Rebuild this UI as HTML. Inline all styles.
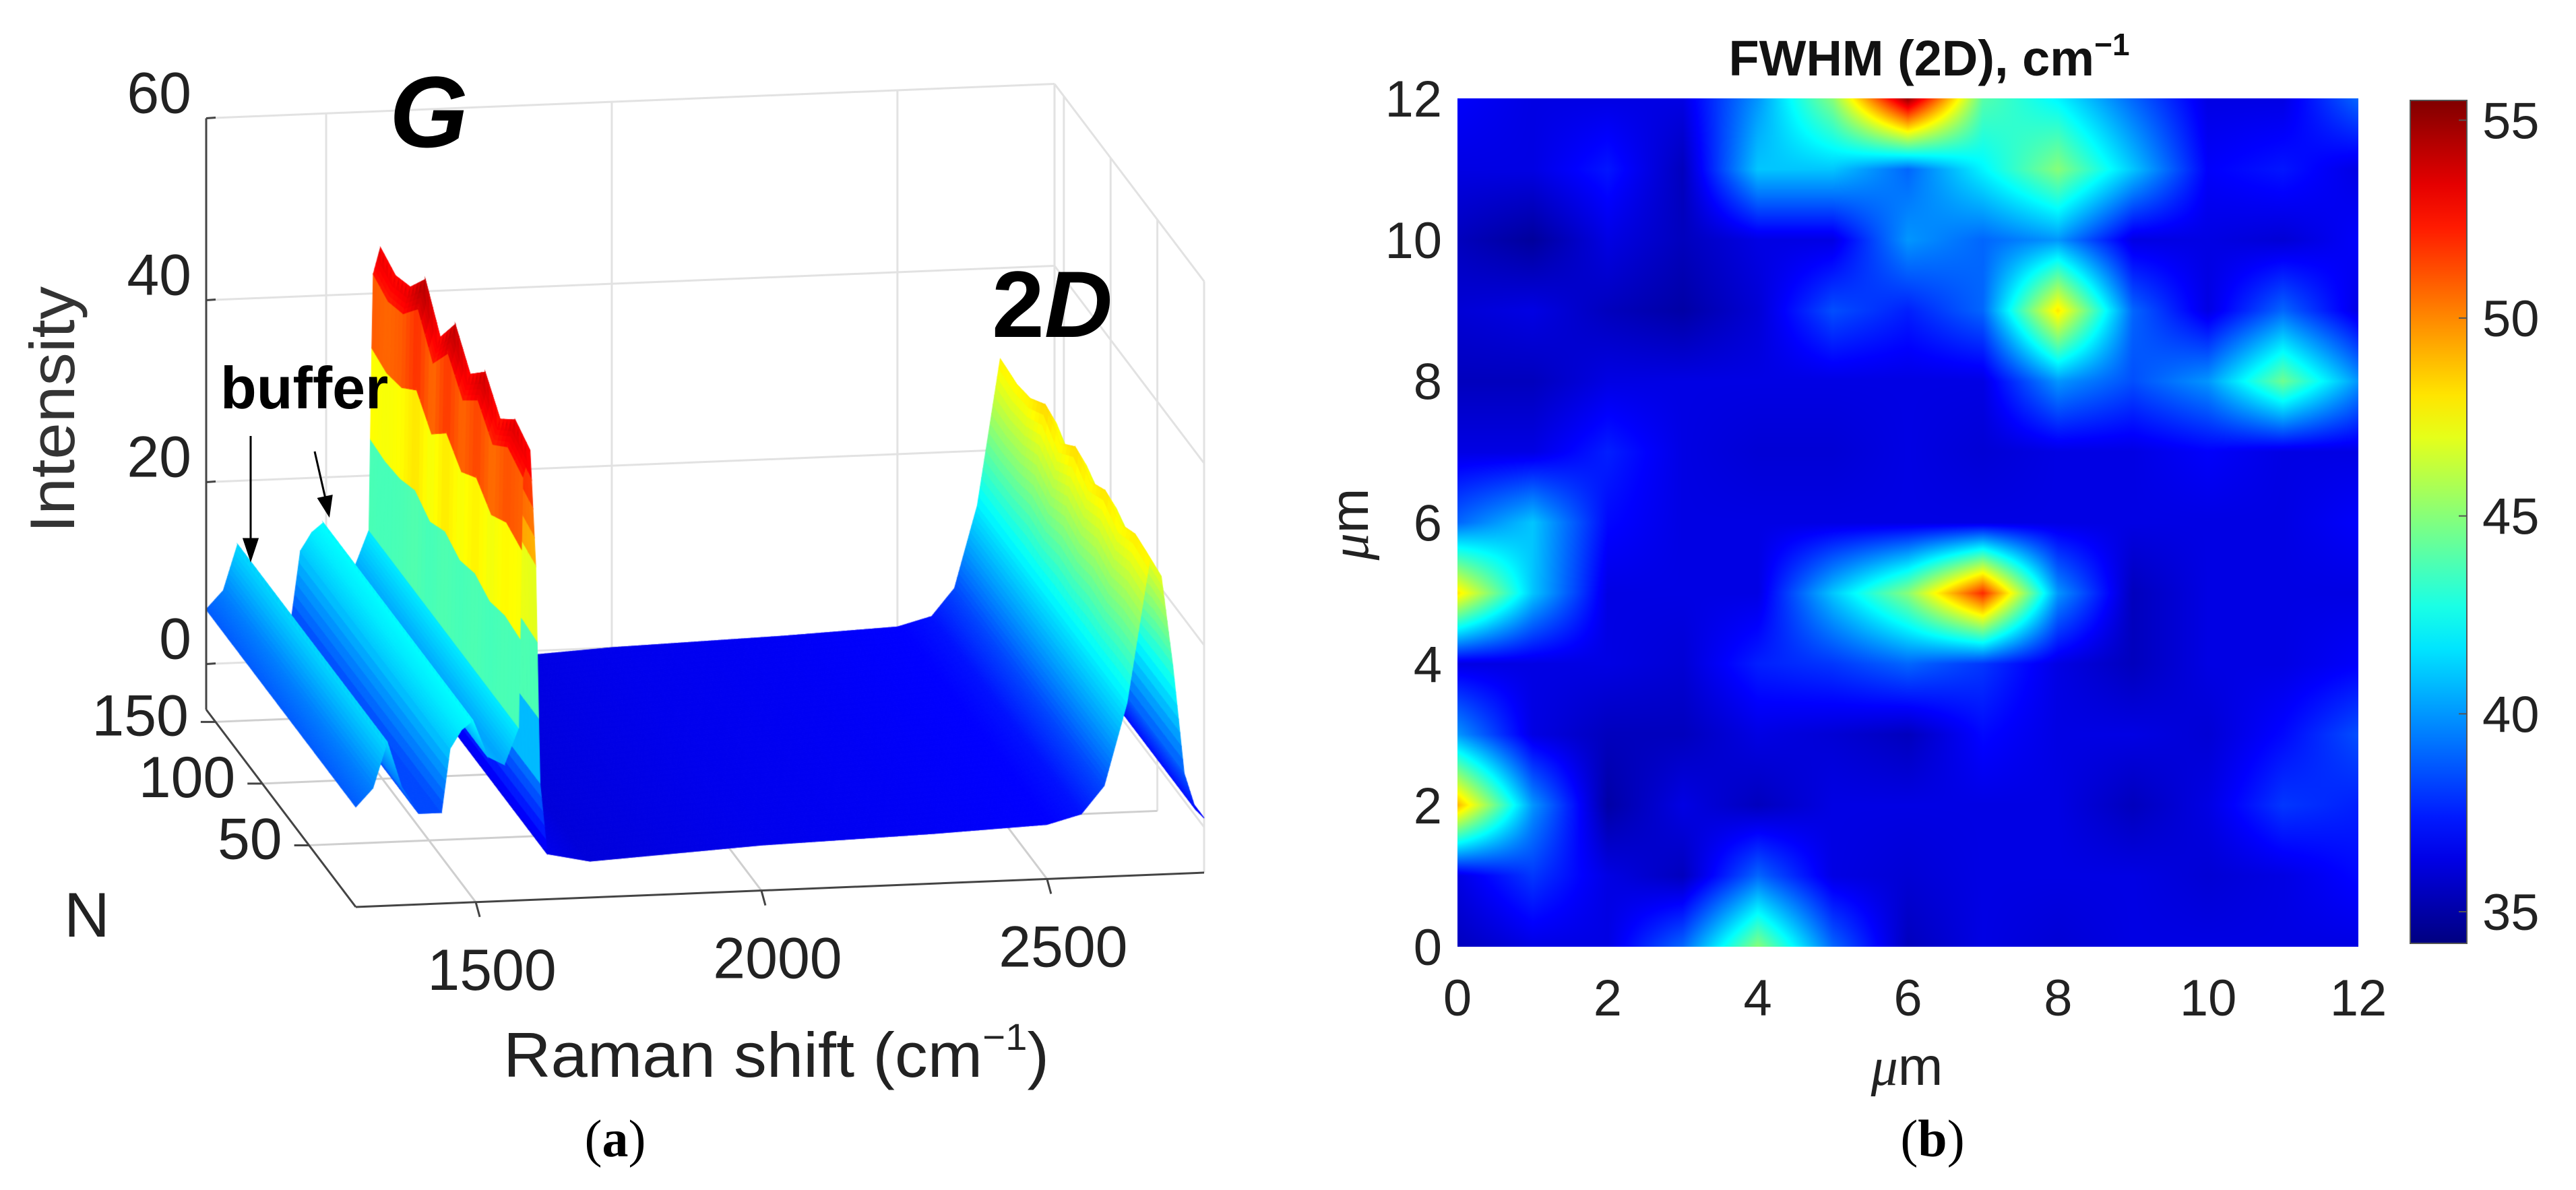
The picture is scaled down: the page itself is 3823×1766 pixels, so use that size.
<!DOCTYPE html>
<html><head><meta charset="utf-8">
<style>
html,body{margin:0;padding:0;background:#fff;}
#root{position:relative;width:3823px;height:1766px;overflow:hidden;background:#fff;font-family:"Liberation Sans",Arial,sans-serif;}
svg,canvas{position:absolute;left:0;top:0;}
</style></head>
<body>
<div id="root">
<svg id="back" width="3823" height="1766"></svg>
<canvas id="surf" width="1900" height="1450"></canvas>
<canvas id="heat" width="1337" height="1259" style="left:2163px;top:146px"></canvas>
<svg id="front" width="3823" height="1766"></svg>
</div>
<script>
// ---------- Panel (a) data ----------
const ramanShift = [1290,1320,1345,1370,1400,1440,1455,1475,1495,1520,1550,1575,1582,1595,1605,1612,1625,1700,2000,2300,2500,2560,2600,2640,2665,2680,2700,2720,2740,2760,2775];
const intensity  = [6,8,13,8,5,5,12,14,15,11,10,14,42,45,32,8,0,-1,0,0.5,1,2,5,14,24,30,28,18,6,2,1];
const spectrumN  = [0,16,32,48,64,80,96,112,128,144,160];
const gScaleByN  = [0.98,1.02,0.95,1.05,0.97,1.08,0.96,1.1,1.0,0.97,1.0];
const zTicks = [0,20,40,60];
const rTicks = [1500,2000,2500];
const nTicks = [50,100,150];
// ---------- Panel (b) data (rows y=12 .. y=0, cols x=0..12) ----------
const fwhmRows = [
[36.8,36.3,36.3,36.3,40,45,55,44,42,39,36.3,36.3,39],
[36.3,36.3,37.3,35.5,41,41,39,42,45,41,36.8,37.3,36.3],
[35.5,34.8,36.3,35.5,36.3,36.3,40,39,40,36.3,36.3,36,36.8],
[36,36.3,35.5,35,36,38.5,37.5,39,48,39,36.3,39,36.3],
[35.5,35.5,36.3,36.3,36.3,36.3,36.3,36.3,40,38.5,40,44.5,40],
[36.3,36.3,37.5,36.3,36,36,36.3,36,36.3,36.3,36.8,36.3,36.3],
[39,41,37,36.3,36.3,36.3,36.3,36.3,36.3,36.3,36.3,36.3,36.8],
[48,41,36.3,36.3,36.3,41,45,52,40,35.5,36.3,36.3,36.3],
[36.3,36.3,36.3,36,37.5,38,39,38,36.3,35.5,36.3,36.3,36.8],
[40,36.3,35.5,35.5,36.3,36,35.5,37,36.3,36.3,36,37,38.5],
[49,40,35,36.3,35.5,36.3,36.3,36.3,36.3,35.5,36.3,38,37.5],
[36.3,38,36.3,35.5,39,36.3,36,36.3,36.3,36.3,36,36.3,37],
[35.5,36.3,36.3,39,45,39,35.5,36.3,36,36.3,36.3,36.3,36.3]];
const heatTicks = [0,2,4,6,8,10,12];
const cbarTicks = [35,40,45,50,55];
const cMin = 34.2, cMax = 55.5;

const NS='http://www.w3.org/2000/svg';
function jet(f){f=Math.max(0,Math.min(1,f));const c=v=>Math.round(255*Math.max(0,Math.min(1,v)));
 return [c(1.5-Math.abs(4*f-3)),c(1.5-Math.abs(4*f-2)),c(1.5-Math.abs(4*f-1))];}
function el(parent,tag,attrs,text){const e=document.createElementNS(NS,tag);for(const k in attrs)e.setAttribute(k,attrs[k]);if(text!==undefined)e.textContent=text;parent.appendChild(e);return e;}

const R0=1290,R1=2775,NMAX=160,ZF=-5;
function P(r,n,z){return [528+(r-R0)*(1259/(R1-R0))-n*(222/NMAX), 1346-(r-R0)*(51/(R1-R0))-n*(293/NMAX)-(z-ZF)*13.5];}
function interp(xs,ys,x){if(x<=xs[0])return ys[0];for(let i=1;i<xs.length;i++){if(x<=xs[i]){const t=(x-xs[i-1])/(xs[i]-xs[i-1]);return ys[i-1]+t*(ys[i]-ys[i-1]);}}return ys[ys.length-1];}
function zAt(r,n){let z=interp(ramanShift,intensity,r);if(z>15)z=15+(z-15)*interp(spectrumN,gScaleByN,n);return z;}

const back=document.getElementById('back');
function line(par,a,b,st,w,name){const l=el(par,'line',{x1:a[0],y1:a[1],x2:b[0],y2:b[1],stroke:st,'stroke-width':w});return l;}
const ZT=60;
zTicks.forEach(z=>{line(back,P(R0,NMAX,z),P(R1,NMAX,z),'#e2e2e2',3,'z-gridline-back');line(back,P(R1,NMAX,z),P(R1,0,z),'#e2e2e2',3,'z-gridline-side');});
rTicks.forEach(r=>{line(back,P(r,NMAX,ZF),P(r,NMAX,ZT),'#e2e2e2',3,'raman-gridline-back');line(back,P(r,0,ZF),P(r,NMAX,ZF),'#cfcfcf',3,'raman-gridline-floor');});
nTicks.forEach(n=>{line(back,P(R1,n,ZF),P(R1,n,ZT),'#e2e2e2',3,'n-gridline-side');line(back,P(R0,n,ZF),P(R1,n,ZF),'#cfcfcf',3,'n-gridline-floor');});
line(back,P(R1,NMAX,ZF),P(R1,NMAX,ZT),'#e2e2e2',3,'back-right-edge');
line(back,P(R1,0,ZF),P(R1,0,ZT),'#e2e2e2',3,'front-right-edge');

const sc=document.getElementById('surf').getContext('2d');
const rs=[];for(let r=R0;r<=R1;r+=2.5)rs.push(r);
const nStep=4;
for(let n=NMAX;n>0;n-=nStep){
 const n2=n-nStep;
 for(let i=0;i<rs.length-1;i++){
  const a=rs[i],b=rs[i+1];
  const za=zAt(a,n),zb=zAt(b,n),zc=zAt(b,n2),zd=zAt(a,n2);
  const p1=P(a,n,za),p2=P(b,n,zb),p3=P(b,n2,zc),p4=P(a,n2,zd);
  const col=jet(((za+zb+zc+zd)/4+6)/(50+6));
  const cs='rgb('+col.join(',')+')';
  sc.fillStyle=cs;sc.strokeStyle=cs;sc.lineWidth=1.2;
  sc.beginPath();sc.moveTo(p1[0],p1[1]);sc.lineTo(p2[0],p2[1]);sc.lineTo(p3[0],p3[1]);sc.lineTo(p4[0],p4[1]);sc.closePath();sc.fill();sc.stroke();
 }
}

const front=document.getElementById('front');
line(front,P(R0,NMAX,ZF),P(R0,NMAX,ZT),'#444',3,'z-axis-line');
line(front,P(R0,NMAX,ZF),P(R0,0,ZF),'#444',3,'n-axis-line');
line(front,P(R0,0,ZF),P(R1,0,ZF),'#444',3,'raman-axis-line');
zTicks.forEach(z=>{const p=P(R0,NMAX,z);line(front,p,[p[0]+14,p[1]-1],'#444',3,'z-tick');
 const t=el(front,'text',{x:p[0]-22,y:p[1]-8,'text-anchor':'end','font-size':86,fill:'#222'},String(z));});
rTicks.forEach(r=>{const p=P(r,0,ZF);line(front,p,[p[0]+6,p[1]+22],'#444',3,'raman-tick');
 const t=el(front,'text',{x:p[0]+24,y:p[1]+130,'text-anchor':'middle','font-size':86,fill:'#222'},String(r));});
nTicks.forEach(n=>{const p=P(R0,n,ZF);line(front,p,[p[0]-22,p[1]],'#444',3,'n-tick');
 const t=el(front,'text',{x:p[0]-40,y:p[1]+20,'text-anchor':'end','font-size':86,fill:'#222'},String(n));});

const hc=document.getElementById('heat').getContext('2d');
const W=1337,H=1259,img=hc.createImageData(W,H);
const nr=fwhmRows.length,ncol=fwhmRows[0].length;
for(let py=0;py<H;py++){const gy=py/(H-1)*(nr-1);const r0=Math.min(nr-2,Math.floor(gy)),ty=gy-r0;
 for(let px=0;px<W;px++){const gx=px/(W-1)*(ncol-1);const c0=Math.min(ncol-2,Math.floor(gx)),tx=gx-c0;
  const v=(fwhmRows[r0][c0]*(1-tx)+fwhmRows[r0][c0+1]*tx)*(1-ty)+(fwhmRows[r0+1][c0]*(1-tx)+fwhmRows[r0+1][c0+1]*tx)*ty;
  const c=jet((v-cMin)/(cMax-cMin));const k=(py*W+px)*4;img.data[k]=c[0];img.data[k+1]=c[1];img.data[k+2]=c[2];img.data[k+3]=255;}}
hc.putImageData(img,0,0);
const HX0=2163,HX1=3500,HY0=146,HY1=1405;
const hx=v=>HX0+v/12*(HX1-HX0), hy=v=>HY1-v/12*(HY1-HY0);
heatTicks.forEach(v=>{
 let t=el(front,'text',{x:hx(v),y:1507,'text-anchor':'middle','font-size':76,fill:'#222'},String(v));
 t=el(front,'text',{x:2140,y:hy(v)+27,'text-anchor':'end','font-size':76,fill:'#222'},String(v));});
const defs=el(front,'defs',{});const g=el(defs,'linearGradient',{id:'jetg',x1:0,y1:1,x2:0,y2:0});
for(let i=0;i<=20;i++){const c=jet(i/20);el(g,'stop',{offset:i/20,'stop-color':'rgb('+c.join(',')+')'});}
const CB0=149,CB1=1400;const cy=v=>CB1-(v-cMin)/(cMax-cMin)*(CB1-CB0);
let cb=el(front,'rect',{x:3577,y:CB0,width:84,height:CB1-CB0,fill:'url(#jetg)',stroke:'#555','stroke-width':2});

cbarTicks.forEach(v=>{line(front,[3649,cy(v)],[3661,cy(v)],'#555',2,'colorbar-tick');
 const t=el(front,'text',{x:3684,y:cy(v)+27,'font-size':76,fill:'#222'},String(v));});
</script>
<svg width="3823" height="1766" style="position:absolute;left:0;top:0">
 <text x="110" y="608" transform="rotate(-90 110 608)" text-anchor="middle" font-size="94" fill="#333" font-family="Liberation Sans, sans-serif" textLength="366" lengthAdjust="spacingAndGlyphs">Intensity</text>
 <text x="95" y="1390" font-size="94" fill="#222" font-family="Liberation Sans, sans-serif">N</text>
 <text x="747" y="1598" font-size="94" fill="#222" font-family="Liberation Sans, sans-serif" textLength="810" lengthAdjust="spacingAndGlyphs">Raman shift  (cm<tspan font-size="56" dy="-40">−1</tspan><tspan dy="40">)</tspan></text>
 <text x="578" y="218" font-size="150" font-weight="bold" font-style="italic" fill="#000" font-family="Liberation Sans, sans-serif">G</text>
 <text x="1472" y="500" font-size="140" font-weight="bold" fill="#000" font-family="Liberation Sans, sans-serif">2<tspan font-style="italic">D</tspan></text>
 <text x="327" y="606" font-size="88" font-weight="bold" fill="#000" font-family="Liberation Sans, sans-serif">buffer</text>
 <g stroke="#000" stroke-width="3" fill="#000">
  <line x1="372" y1="647" x2="372" y2="805"/><polygon points="362,800 382,800 372,830"/>
  <line x1="467" y1="670" x2="483" y2="740"/><polygon points="473,740 492,736 488,764"/>
 </g>
 <text x="913" y="1716" text-anchor="middle" font-size="78" fill="#000" font-family="Liberation Serif, serif">(<tspan font-weight="bold">a</tspan>)</text>
 <text x="2868" y="1716" text-anchor="middle" font-size="78" fill="#000" font-family="Liberation Serif, serif">(<tspan font-weight="bold">b</tspan>)</text>
 <text x="2863" y="112" text-anchor="middle" font-size="74" font-weight="bold" fill="#111" font-family="Liberation Sans, sans-serif">FWHM (2D), cm<tspan font-size="46" dy="-30">−1</tspan></text>
 <text x="2830" y="1610" text-anchor="middle" font-size="80" fill="#222" font-family="Liberation Sans, sans-serif"><tspan font-style="italic" font-family="Liberation Serif, serif">μ</tspan>m</text>
 <text x="2030" y="778" transform="rotate(-90 2030 778)" text-anchor="middle" font-size="80" fill="#222" font-family="Liberation Sans, sans-serif"><tspan font-style="italic" font-family="Liberation Serif, serif">μ</tspan>m</text>
</svg>
</body></html>
